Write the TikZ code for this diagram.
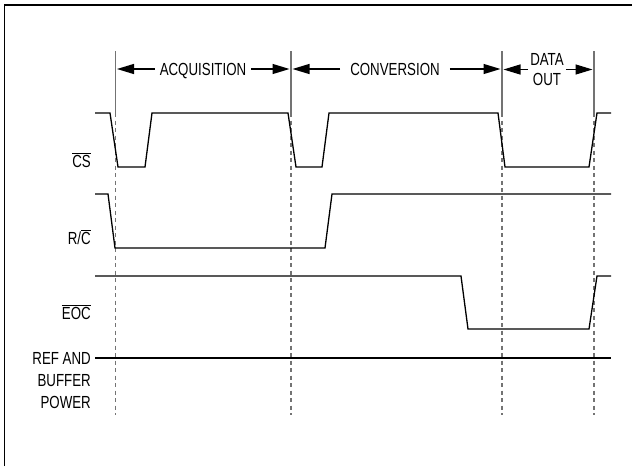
\documentclass[tikz,border=0pt]{standalone}
\usepackage{fontspec}
\setmainfont{Liberation Sans}[FakeStretch=0.76]
\usetikzlibrary{arrows.meta}
\newcommand\ovl[1]{$\overline{\mbox{#1}}$}
\tikzset{
  sig/.style={line width=1.3pt, line join=miter},
  guide/.style={black!55, line width=1.1pt},
  guidedash/.style={black!55, line width=1.2pt, dash pattern=on 4pt off 3.5pt},
  timarr/.style={-{Triangle[length=17pt,width=10pt]}, line width=1.3pt, shorten >=1.5pt},
  phase/.style={inner xsep=5pt, inner ysep=0pt, text height=12.6pt, text depth=0pt},
  siglbl/.style={anchor=base east, inner sep=0pt}
}
\begin{document}
\begin{tikzpicture}[x=1pt,y=-1pt]
\useasboundingbox (0,0) rectangle (632,466);
\fontsize{17.5}{22}\selectfont

% frame corner
\draw[line width=1.8pt] (4.5,466) -- (4.5,4.8) -- (632,4.8);

% phase boundaries
\foreach \x [count=\i] in {115.5,291,502,594} {
  \coordinate (m\i) at (\x,51);
  \draw[guide] (m\i) -- (\x,113);
  \draw[guidedash] (\x,113) -- (\x,415);
}

% phase labels
\node[phase] (acq) at (203,69) {ACQUISITION};
\draw[timarr] (acq.west) -- (acq.west -| m1);
\draw[timarr] (acq.east) -- (acq.east -| m2);

\node[phase, inner xsep=10pt] (conv) at (395,69) {CONVERSION};
\draw[timarr] (conv.west) -- (conv.west -| m2);
\draw[timarr] (conv.east) -- (conv.east -| m3);

\node[inner xsep=2pt, inner ysep=0pt, align=center] (dout) at (547,69.5) {DATA\\[-1.5pt]OUT};
\draw[timarr] (dout.west) -- (dout.west -| m3);
\draw[timarr] (dout.east) -- (dout.east -| m4);

% signal names
\node[siglbl] (cs) at (91,167) {\ovl{CS}};
\node[siglbl] (rc) at (91,244) {R/\ovl{C}};
\node[siglbl] (eoc) at (91,319) {\ovl{EOC}};
\node[anchor=north east, inner sep=0pt, align=right] (ref) at (91,352.7)
  {REF AND\\BUFFER\\POWER};

% waveforms
\draw[sig] (95,113) -- (110,113) -- (118,167) -- (145,167) -- (152,113)
  -- (288,113) -- (296,167) -- (322,167) -- (329,113) -- (498,113)
  -- (505,167) -- (589,167) -- (597,113) -- (611,113);
\draw[sig] (95,194) -- (108,194) -- (115,248) -- (325,248) -- (332,194) -- (611,194);
\draw[sig] (95,276) -- (461,276) -- (468,329) -- (589,329) -- (597,276) -- (611,276);
\draw[sig] (95,358) -- (611,358);

\end{tikzpicture}
\end{document}
